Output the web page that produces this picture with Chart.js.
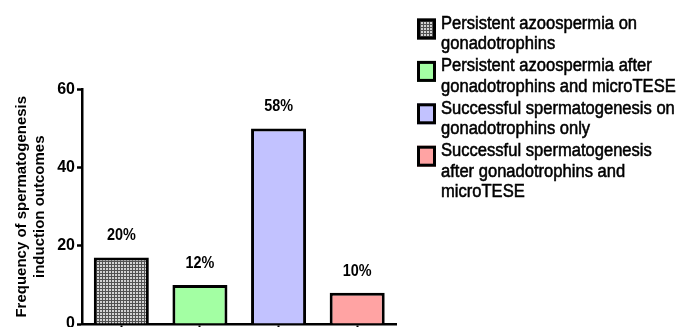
<!DOCTYPE html>
<html>
<head>
<meta charset="utf-8">
<script src="https://cdn.jsdelivr.net/npm/chart.js@4.4.1/dist/chart.umd.min.js"></script>
<style>
  html, body { margin: 0; padding: 0; background: #fff; overflow: hidden; }
  #wrap { width: 678px; height: 345px; }
</style>
</head>
<body>
<div id="wrap"><canvas id="barChart" width="678" height="345"></canvas></div>
<script>
// outcome groups and counts
const categories = ['PA-gn', 'PA-gn-mTESE', 'SS-gn', 'SS-gn-mTESE']
const counts = [17, 10, 50, 8]
const pctLabels = ['20%', '12%', '58%', '10%']
const legendLines = [
  ['Persistent azoospermia on', 'gonadotrophins'],
  ['Persistent azoospermia after', 'gonadotrophins and microTESE'],
  ['Successful spermatogenesis on', 'gonadotrophins only'],
  ['Successful spermatogenesis', 'after gonadotrophins and', 'microTESE']
]
const yTicks = [0, 20, 40, 60]

const CHART = document.getElementById('barChart')
const FONT = '"Liberation Sans", Arial, sans-serif'

// checkered grey fill for the first group
function makePattern () {
  const c = document.createElement('canvas')
  c.width = 3
  c.height = 3
  const g = c.getContext('2d')
  g.fillStyle = '#525252'
  g.fillRect(0, 0, 3, 3)
  g.fillStyle = '#d2d2d2'
  g.fillRect(1, 1, 2, 2)
  return CHART.getContext('2d').createPattern(c, 'repeat')
}
const pattern = makePattern()
const fills = [pattern, '#a3ffa3', '#c2c2ff', '#ffa3a3']

// percentage text above each bar
const pctPlugin = {
  id: 'pctLabels',
  afterDatasetsDraw (chart) {
    const ctx = chart.ctx
    const meta = chart.getDatasetMeta(0)
    ctx.save()
    ctx.font = 'bold 16px ' + FONT
    ctx.fillStyle = '#000'
    ctx.textAlign = 'center'
    ctx.textBaseline = 'middle'
    meta.data.forEach((bar, i) => {
      ctx.save()
      ctx.translate(bar.x, bar.y - 21.5)
      ctx.scale(0.9, 1)
      ctx.fillText(pctLabels[i], 0, 0)
      ctx.restore()
    })
    ctx.restore()
  }
}

// legend with wrapped text on the right
const legendPlugin = {
  id: 'sideLegend',
  afterDraw (chart) {
    const ctx = chart.ctx
    const boxX = 417
    const textX = 441
    const lineH = 20.4
    let y = 24
    ctx.save()
    ctx.font = '18px ' + FONT
    ctx.textBaseline = 'middle'
    legendLines.forEach((lines, i) => {
      ctx.fillStyle = fills[i]
      ctx.fillRect(boxX, y - 5.5, 19, 21)
      ctx.lineWidth = 3
      ctx.strokeStyle = '#000'
      ctx.strokeRect(boxX + 1.5, y - 4, 16, 18)
      ctx.fillStyle = '#000'
      ctx.lineWidth = 0.55
      lines.forEach((t, j) => {
        ctx.save()
        ctx.translate(textX, y + j * lineH)
        ctx.scale(0.92, 1)
        ctx.fillText(t, 0, 0)
        ctx.strokeText(t, 0, 0)
        ctx.restore()
      })
      y += lines.length * lineH + 1.6
    })
    ctx.restore()
  }
}

const barChart = new Chart(CHART, {
  type: 'bar',
  data: {
    labels: categories,
    datasets: [
      {
        data: counts,
        backgroundColor: fills,
        borderColor: '#000',
        borderWidth: 3,
        categoryPercentage: 1,
        barPercentage: 0.7
      }
    ]
  },
  plugins: [pctPlugin, legendPlugin],
  options: {
    responsive: false,
    animation: false,
    layout: {
      padding: { top: 89.5, right: 281.5, bottom: 0, left: 0 }
    },
    plugins: {
      legend: { display: false },
      tooltip: { enabled: false }
    },
    scales: {
      x: {
        afterFit: (scale) => { scale.height = 21 },
        border: { display: true, color: '#000', width: 2.5 },
        grid: {
          display: true,
          offset: false,
          drawOnChartArea: false,
          drawTicks: true,
          tickLength: 5,
          tickWidth: 2,
          tickColor: '#000'
        },
        ticks: { display: false }
      },
      y: {
        min: 0,
        max: 60,
        afterFit: (scale) => { scale.width = 82 },
        afterBuildTicks: (scale) => { scale.ticks = yTicks.map(v => ({ value: v })) },
        border: { display: true, color: '#000', width: 2.5 },
        grid: {
          display: true,
          drawOnChartArea: false,
          drawTicks: true,
          tickLength: 5,
          tickWidth: 2.5,
          tickColor: '#000'
        },
        ticks: {
          padding: 2,
          color: '#000',
          font: { family: FONT, size: 16, weight: 'bold' }
        },
        title: {
          display: true,
          text: ['Frequency of spermatogenesis', 'induction outcomes'],
          color: '#000',
          padding: { top: 13.5, bottom: 0 },
          font: { family: FONT, size: 15, weight: 'bold', lineHeight: 1.15 }
        }
      }
    }
  }
})
</script>
</body>
</html>
